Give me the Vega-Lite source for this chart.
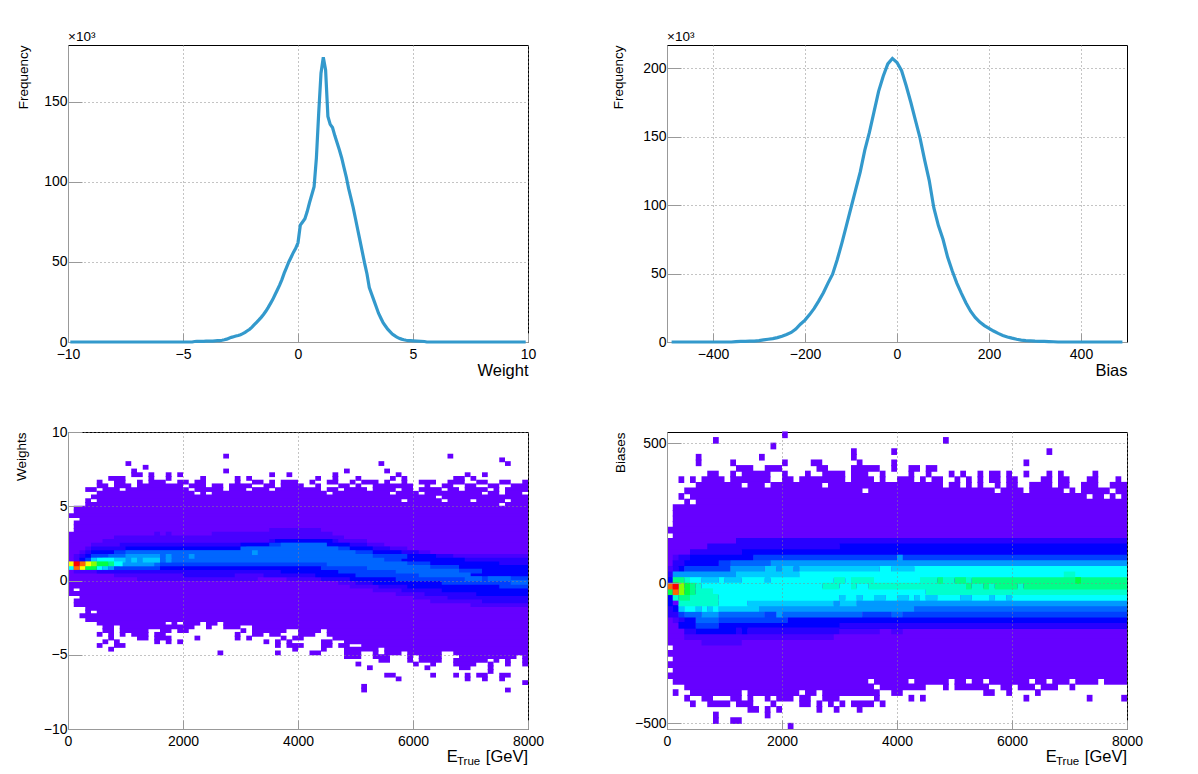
{
"$schema":"https://vega.github.io/schema/vega-lite/v6.json",
"background":"white",
"padding":{"left":13,"top":29,"right":0,"bottom":0},
"columns":2,
"spacing":{"row":90,"column":139},
"bounds":"flush",
"config":{
"font":"Liberation Sans",
"view":{"stroke":"black","strokeWidth":1},
"axis":{"domainColor":"#999999","tickColor":"#999999","gridColor":"#888888","gridDash":[1,3],"labelColor":"black","titleColor":"black","labelFontSize":14,"titleFontWeight":"normal","labelFont":"Liberation Sans","titleFont":"Liberation Sans","labelOverlap":false,"labelFlush":false},
"axisX":{"tickSize":-9,"labelPadding":14,"labelBaseline":"top"},
"axisY":{"tickSize":-14,"labelPadding":15}
},
"concat":[
{"width":460,"height":297,
"layer":[
{"data":{"values":[{"x":-9.9,"y":0},{"x":-4.6,"y":0},{"x":-4.5,"y":0.3},{"x":-4.4,"y":0.4},{"x":-4.3,"y":0.4},{"x":-4.2,"y":0.4},{"x":-4.1,"y":0.4},{"x":-4,"y":0.5},{"x":-3.9,"y":0.5},{"x":-3.8,"y":0.5},{"x":-3.7,"y":0.6},{"x":-3.6,"y":0.7},{"x":-3.5,"y":0.8},{"x":-3.4,"y":0.9},{"x":-3.3,"y":1.1},{"x":-3.2,"y":1.4},{"x":-3.1,"y":1.8},{"x":-3,"y":2.4},{"x":-2.9,"y":2.9},{"x":-2.8,"y":3.3},{"x":-2.7,"y":3.7},{"x":-2.6,"y":4.1},{"x":-2.5,"y":4.6},{"x":-2.4,"y":5.2},{"x":-2.3,"y":6},{"x":-2.2,"y":7},{"x":-2.1,"y":8},{"x":-2,"y":9.3},{"x":-1.9,"y":10.8},{"x":-1.8,"y":12.3},{"x":-1.7,"y":13.8},{"x":-1.6,"y":15.4},{"x":-1.5,"y":17.2},{"x":-1.4,"y":19.2},{"x":-1.3,"y":21.5},{"x":-1.2,"y":24},{"x":-1.1,"y":26.5},{"x":-1,"y":29.5},{"x":-0.9,"y":32.5},{"x":-0.8,"y":35.5},{"x":-0.7,"y":39},{"x":-0.6,"y":43},{"x":-0.5,"y":46.5},{"x":-0.4,"y":50},{"x":-0.3,"y":53},{"x":-0.2,"y":56},{"x":-0.1,"y":58.5},{"x":0,"y":62},{"x":0.1,"y":73},{"x":0.2,"y":75},{"x":0.3,"y":77},{"x":0.4,"y":81.5},{"x":0.5,"y":87},{"x":0.6,"y":92},{"x":0.7,"y":97},{"x":0.8,"y":115},{"x":0.9,"y":143},{"x":1,"y":168},{"x":1.1,"y":178},{"x":1.2,"y":170},{"x":1.3,"y":141},{"x":1.4,"y":136},{"x":1.5,"y":134},{"x":1.6,"y":129},{"x":1.7,"y":124.5},{"x":1.8,"y":120},{"x":1.9,"y":115},{"x":2,"y":109},{"x":2.1,"y":103},{"x":2.2,"y":96},{"x":2.3,"y":90},{"x":2.4,"y":84},{"x":2.5,"y":77},{"x":2.6,"y":70},{"x":2.7,"y":63},{"x":2.8,"y":56},{"x":2.9,"y":49},{"x":3,"y":42.5},{"x":3.1,"y":34},{"x":3.2,"y":30},{"x":3.3,"y":26},{"x":3.4,"y":22},{"x":3.5,"y":18},{"x":3.6,"y":15},{"x":3.7,"y":12},{"x":3.8,"y":10},{"x":3.9,"y":8},{"x":4,"y":6.5},{"x":4.1,"y":5},{"x":4.2,"y":4},{"x":4.3,"y":3},{"x":4.4,"y":2.3},{"x":4.5,"y":1.8},{"x":4.6,"y":1.4},{"x":4.7,"y":1.1},{"x":4.8,"y":0.9},{"x":4.9,"y":0.8},{"x":5,"y":0.7},{"x":5.5,"y":0.3},{"x":5.6,"y":0},{"x":9.9,"y":0}]},
"mark":{"type":"line","color":"#3399cc","strokeWidth":3.2},
"encoding":{
"x":{"field":"x","type":"quantitative","scale":{"domain":[-10,10],"nice":false},"axis":{"values":[-10,-5,0,5,10],"title":"Weight","titleFontSize":16.5,"titleAnchor":"end","titlePadding":1,"format":"d"}},
"y":{"field":"y","type":"quantitative","scale":{"domain":[0,185.6],"nice":false},"axis":{"values":[0,50,100,150],"title":"Frequency","titleFontSize":13.5,"titleAnchor":"end","titlePadding":13,"format":"d"}}}},
{"data":{"values":[{"x":-10,"y":185.6,"t":"×10³"}]},
"mark":{"type":"text","align":"left","baseline":"bottom","fontSize":13.5,"dy":-1,"clip":false},
"encoding":{"x":{"field":"x","type":"quantitative"},"y":{"field":"y","type":"quantitative"},"text":{"field":"t"}}}
]},
{"width":460,"height":297,
"layer":[
{"data":{"values":[{"x":-490,"y":0},{"x":-360,"y":0},{"x":-350,"y":0.3},{"x":-340,"y":0.4},{"x":-330,"y":0.5},{"x":-320,"y":0.6},{"x":-310,"y":0.7},{"x":-300,"y":1},{"x":-290,"y":1.5},{"x":-280,"y":2},{"x":-270,"y":2.5},{"x":-260,"y":3.2},{"x":-250,"y":4.2},{"x":-240,"y":5.5},{"x":-230,"y":7},{"x":-220,"y":9.5},{"x":-210,"y":13},{"x":-200,"y":16},{"x":-190,"y":20},{"x":-180,"y":24.5},{"x":-170,"y":30},{"x":-160,"y":36},{"x":-150,"y":43},{"x":-140,"y":49.5},{"x":-130,"y":60},{"x":-120,"y":72},{"x":-110,"y":85},{"x":-100,"y":98},{"x":-90,"y":111},{"x":-80,"y":124},{"x":-70,"y":140},{"x":-60,"y":153},{"x":-50,"y":168},{"x":-40,"y":183},{"x":-30,"y":194},{"x":-20,"y":203},{"x":-10,"y":207},{"x":0,"y":204},{"x":10,"y":198},{"x":20,"y":187},{"x":30,"y":175},{"x":40,"y":162},{"x":50,"y":149},{"x":60,"y":133},{"x":70,"y":118},{"x":80,"y":98},{"x":90,"y":85},{"x":100,"y":75},{"x":110,"y":62},{"x":120,"y":52},{"x":130,"y":43},{"x":140,"y":35.5},{"x":150,"y":28.5},{"x":160,"y":22.5},{"x":170,"y":18},{"x":180,"y":14.5},{"x":190,"y":12},{"x":200,"y":10},{"x":210,"y":8},{"x":220,"y":6.3},{"x":230,"y":4.8},{"x":240,"y":3.7},{"x":250,"y":2.8},{"x":260,"y":2},{"x":270,"y":1.4},{"x":280,"y":1},{"x":290,"y":0.8},{"x":300,"y":0.6},{"x":310,"y":0.5},{"x":320,"y":0.4},{"x":330,"y":0.3},{"x":340,"y":0.2},{"x":350,"y":0},{"x":490,"y":0}]},
"mark":{"type":"line","color":"#3399cc","strokeWidth":3.2},
"encoding":{
"x":{"field":"x","type":"quantitative","scale":{"domain":[-500,500],"nice":false},"axis":{"values":[-400,-200,0,200,400],"title":"Bias","titleFontSize":16.5,"titleAnchor":"end","titlePadding":1,"format":"d"}},
"y":{"field":"y","type":"quantitative","scale":{"domain":[0,216.8],"nice":false},"axis":{"values":[0,50,100,150,200],"title":"Frequency","titleFontSize":13.5,"titleAnchor":"end","titlePadding":17,"format":"d"}}}},
{"data":{"values":[{"x":-500,"y":216.8,"t":"×10³"}]},
"mark":{"type":"text","align":"left","baseline":"bottom","fontSize":13.5,"dy":-1,"clip":false},
"encoding":{"x":{"field":"x","type":"quantitative"},"y":{"field":"y","type":"quantitative"},"text":{"field":"t"}}}
]},
{"width":460,"height":297,
"layer":[
{"data":{"values":[
{"a":2700,"b":2800,"y":8.375,"z":1},{"a":6600,"b":6700,"y":8.375,"z":1},{"a":7500,"b":7600,"y":8.125,"z":1},{"a":7600,"b":7700,"y":7.875,"z":1},{"a":5400,"b":5500,"y":7.875,"z":1},{"a":1000,"b":1100,"y":7.875,"z":1},{"a":1300,"b":1400,"y":7.625,"z":1},
{"a":1100,"b":1200,"y":7.375,"z":1},{"a":2700,"b":2800,"y":7.375,"z":1},{"a":4800,"b":4900,"y":7.375,"z":1},{"a":5500,"b":5600,"y":7.375,"z":1},
{"a":1100,"b":1300,"y":7.125,"z":1},{"a":1400,"b":1500,"y":7.125,"z":1},{"a":1700,"b":1800,"y":7.125,"z":1},{"a":1900,"b":2000,"y":7.125,"z":1},{"a":3500,"b":3600,"y":7.125,"z":1},{"a":3800,"b":3900,"y":7.125,"z":1},{"a":4600,"b":4700,"y":7.125,"z":1},{"a":5700,"b":5800,"y":7.125,"z":1},{"a":6900,"b":7000,"y":7.125,"z":1},{"a":7200,"b":7300,"y":7.125,"z":1},
{"a":700,"b":1000,"y":6.875,"z":1},{"a":1400,"b":1500,"y":6.875,"z":1},{"a":1700,"b":1800,"y":6.875,"z":1},{"a":2300,"b":2400,"y":6.875,"z":1},{"a":2900,"b":3000,"y":6.875,"z":1},{"a":3100,"b":3200,"y":6.875,"z":1},{"a":4300,"b":4400,"y":6.875,"z":1},{"a":4600,"b":4700,"y":6.875,"z":1},{"a":5000,"b":5100,"y":6.875,"z":1},{"a":5600,"b":5700,"y":6.875,"z":1},{"a":5800,"b":5900,"y":6.875,"z":1},{"a":6700,"b":6900,"y":6.875,"z":1},{"a":7000,"b":7100,"y":6.875,"z":1},
{"a":500,"b":600,"y":6.625,"z":1},{"a":800,"b":1000,"y":6.625,"z":1},{"a":1200,"b":1300,"y":6.625,"z":1},{"a":1400,"b":1700,"y":6.625,"z":1},{"a":1900,"b":2100,"y":6.625,"z":1},{"a":2200,"b":2400,"y":6.625,"z":1},{"a":2900,"b":3000,"y":6.625,"z":1},{"a":3200,"b":3400,"y":6.625,"z":1},{"a":3500,"b":3600,"y":6.625,"z":1},{"a":3700,"b":4000,"y":6.625,"z":1},{"a":4200,"b":4300,"y":6.625,"z":1},{"a":4500,"b":4700,"y":6.625,"z":1},{"a":4900,"b":5000,"y":6.625,"z":1},{"a":5100,"b":5400,"y":6.625,"z":1},{"a":5500,"b":5600,"y":6.625,"z":1},{"a":5800,"b":5900,"y":6.625,"z":1},{"a":6100,"b":6400,"y":6.625,"z":1},{"a":6600,"b":6900,"y":6.625,"z":1},{"a":7100,"b":7300,"y":6.625,"z":1},{"a":7500,"b":7700,"y":6.625,"z":1},{"a":7900,"b":8000,"y":6.625,"z":1},
{"a":500,"b":700,"y":6.375,"z":1},{"a":800,"b":1100,"y":6.375,"z":1},{"a":1200,"b":2000,"y":6.375,"z":1},{"a":2100,"b":2400,"y":6.375,"z":1},{"a":2500,"b":2700,"y":6.375,"z":1},{"a":2800,"b":3200,"y":6.375,"z":1},{"a":3400,"b":3600,"y":6.375,"z":1},{"a":3700,"b":4100,"y":6.375,"z":1},{"a":4300,"b":4400,"y":6.375,"z":1},{"a":4700,"b":4900,"y":6.375,"z":1},{"a":5000,"b":5100,"y":6.375,"z":1},{"a":5300,"b":6000,"y":6.375,"z":1},{"a":6200,"b":6300,"y":6.375,"z":1},{"a":6500,"b":6700,"y":6.375,"z":1},{"a":6900,"b":7100,"y":6.375,"z":1},{"a":7300,"b":7500,"y":6.375,"z":1},{"a":7700,"b":8000,"y":6.375,"z":1},
{"a":300,"b":500,"y":6.125,"z":1},{"a":600,"b":900,"y":6.125,"z":1},{"a":1000,"b":2100,"y":6.125,"z":1},{"a":2200,"b":2700,"y":6.125,"z":1},{"a":2800,"b":3100,"y":6.125,"z":1},{"a":3200,"b":3500,"y":6.125,"z":1},{"a":3600,"b":4400,"y":6.125,"z":1},{"a":4500,"b":4700,"y":6.125,"z":1},{"a":4800,"b":5200,"y":6.125,"z":1},{"a":5300,"b":5700,"y":6.125,"z":1},{"a":5800,"b":6000,"y":6.125,"z":1},{"a":6100,"b":6500,"y":6.125,"z":1},{"a":6600,"b":6800,"y":6.125,"z":1},{"a":6900,"b":7300,"y":6.125,"z":1},{"a":7400,"b":7500,"y":6.125,"z":1},{"a":7600,"b":8000,"y":6.125,"z":1},
{"a":500,"b":2200,"y":5.875,"z":1},{"a":2300,"b":2400,"y":5.875,"z":1},{"a":2500,"b":4500,"y":5.875,"z":1},{"a":4600,"b":5600,"y":5.875,"z":1},{"a":5700,"b":6100,"y":5.875,"z":1},{"a":6200,"b":7200,"y":5.875,"z":1},{"a":7300,"b":7500,"y":5.875,"z":1},{"a":7600,"b":7900,"y":5.875,"z":1},
{"a":400,"b":6400,"y":5.625,"z":1},{"a":6500,"b":8000,"y":5.625,"z":1},
{"a":300,"b":400,"y":5.375,"z":1},{"a":500,"b":5800,"y":5.375,"z":1},{"a":5900,"b":6500,"y":5.375,"z":1},{"a":6600,"b":7000,"y":5.375,"z":1},{"a":7100,"b":7600,"y":5.375,"z":1},{"a":7700,"b":8000,"y":5.375,"z":1},
{"a":300,"b":7500,"y":5.125,"z":1},{"a":7600,"b":8000,"y":5.125,"z":1},
{"a":100,"b":8000,"y":4.875,"z":1},{"a":100,"b":8000,"y":4.625,"z":1},{"a":0,"b":8000,"y":4.375,"z":1},{"a":200,"b":8000,"y":4.125,"z":1},{"a":100,"b":8000,"y":3.875,"z":1},{"a":100,"b":8000,"y":3.625,"z":1},{"a":100,"b":8000,"y":3.375,"z":1},
{"a":0,"b":8000,"y":3.125,"z":1},{"a":0,"b":8000,"y":2.875,"z":1},{"a":0,"b":8000,"y":2.625,"z":1},{"a":0,"b":8000,"y":2.375,"z":1},{"a":0,"b":8000,"y":2.125,"z":1},{"a":0,"b":8000,"y":1.875,"z":1},{"a":0,"b":8000,"y":1.625,"z":1},{"a":0,"b":8000,"y":1.375,"z":1},{"a":0,"b":8000,"y":1.125,"z":1},{"a":0,"b":8000,"y":0.875,"z":1},{"a":0,"b":8000,"y":0.625,"z":1},{"a":0,"b":8000,"y":0.375,"z":1},{"a":0,"b":8000,"y":0.125,"z":1},{"a":0,"b":8000,"y":-0.125,"z":1},{"a":0,"b":8000,"y":-0.375,"z":1},
{"a":0,"b":100,"y":-0.625,"z":1},{"a":200,"b":8000,"y":-0.625,"z":1},{"a":0,"b":8000,"y":-0.875,"z":1},{"a":200,"b":8000,"y":-1.125,"z":1},{"a":100,"b":8000,"y":-1.375,"z":1},{"a":100,"b":8000,"y":-1.625,"z":1},{"a":300,"b":8000,"y":-1.875,"z":1},{"a":300,"b":400,"y":-2.125,"z":1},{"a":500,"b":8000,"y":-2.125,"z":1},{"a":200,"b":8000,"y":-2.375,"z":1},{"a":300,"b":8000,"y":-2.625,"z":1},
{"a":500,"b":1700,"y":-2.875,"z":1},{"a":1800,"b":1900,"y":-2.875,"z":1},{"a":2000,"b":2300,"y":-2.875,"z":1},{"a":2400,"b":2600,"y":-2.875,"z":1},{"a":2700,"b":8000,"y":-2.875,"z":1},
{"a":600,"b":800,"y":-3.125,"z":1},{"a":900,"b":2200,"y":-3.125,"z":1},{"a":2400,"b":2500,"y":-3.125,"z":1},{"a":2700,"b":3000,"y":-3.125,"z":1},{"a":3200,"b":8000,"y":-3.125,"z":1},
{"a":600,"b":800,"y":-3.375,"z":1},{"a":900,"b":1400,"y":-3.375,"z":1},{"a":1600,"b":1800,"y":-3.375,"z":1},{"a":1900,"b":2100,"y":-3.375,"z":1},{"a":3000,"b":3100,"y":-3.375,"z":1},{"a":3200,"b":3800,"y":-3.375,"z":1},{"a":4000,"b":4400,"y":-3.375,"z":1},{"a":4500,"b":8000,"y":-3.375,"z":1},
{"a":500,"b":600,"y":-3.625,"z":1},{"a":700,"b":800,"y":-3.625,"z":1},{"a":900,"b":1000,"y":-3.625,"z":1},{"a":1100,"b":1400,"y":-3.625,"z":1},{"a":1500,"b":1700,"y":-3.625,"z":1},{"a":2900,"b":3000,"y":-3.625,"z":1},{"a":3200,"b":3400,"y":-3.625,"z":1},{"a":3500,"b":3700,"y":-3.625,"z":1},{"a":4000,"b":4300,"y":-3.625,"z":1},{"a":4500,"b":8000,"y":-3.625,"z":1},
{"a":700,"b":800,"y":-3.875,"z":1},{"a":1200,"b":1400,"y":-3.875,"z":1},{"a":1500,"b":1800,"y":-3.875,"z":1},{"a":2200,"b":2300,"y":-3.875,"z":1},{"a":2900,"b":3000,"y":-3.875,"z":1},{"a":3100,"b":3200,"y":-3.875,"z":1},{"a":3700,"b":3800,"y":-3.875,"z":1},{"a":3900,"b":4100,"y":-3.875,"z":1},{"a":4600,"b":8000,"y":-3.875,"z":1},
{"a":600,"b":700,"y":-4.125,"z":1},{"a":800,"b":900,"y":-4.125,"z":1},{"a":1500,"b":1600,"y":-4.125,"z":1},{"a":1700,"b":1800,"y":-4.125,"z":1},{"a":1900,"b":2000,"y":-4.125,"z":1},{"a":3400,"b":3500,"y":-4.125,"z":1},{"a":3600,"b":3700,"y":-4.125,"z":1},{"a":3800,"b":3900,"y":-4.125,"z":1},{"a":4400,"b":4600,"y":-4.125,"z":1},{"a":4800,"b":8000,"y":-4.125,"z":1},
{"a":500,"b":600,"y":-4.375,"z":1},{"a":800,"b":1000,"y":-4.375,"z":1},{"a":3600,"b":3700,"y":-4.375,"z":1},{"a":3800,"b":4100,"y":-4.375,"z":1},{"a":4400,"b":4600,"y":-4.375,"z":1},{"a":4700,"b":4900,"y":-4.375,"z":1},{"a":5100,"b":8000,"y":-4.375,"z":1},
{"a":700,"b":800,"y":-4.625,"z":1},{"a":3900,"b":4000,"y":-4.625,"z":1},{"a":4400,"b":4500,"y":-4.625,"z":1},{"a":4800,"b":5400,"y":-4.625,"z":1},{"a":5500,"b":8000,"y":-4.625,"z":1},
{"a":2600,"b":2700,"y":-4.875,"z":1},{"a":3600,"b":3700,"y":-4.875,"z":1},{"a":4200,"b":4400,"y":-4.875,"z":1},{"a":4800,"b":5100,"y":-4.875,"z":1},{"a":5300,"b":5400,"y":-4.875,"z":1},{"a":5500,"b":5800,"y":-4.875,"z":1},{"a":5900,"b":6500,"y":-4.875,"z":1},{"a":6700,"b":8000,"y":-4.875,"z":1},
{"a":4800,"b":5100,"y":-5.125,"z":1},{"a":5300,"b":5600,"y":-5.125,"z":1},{"a":5900,"b":6000,"y":-5.125,"z":1},{"a":6100,"b":6500,"y":-5.125,"z":1},{"a":6800,"b":7800,"y":-5.125,"z":1},{"a":7900,"b":8000,"y":-5.125,"z":1},
{"a":5400,"b":5600,"y":-5.375,"z":1},{"a":5900,"b":6000,"y":-5.375,"z":1},{"a":6100,"b":6500,"y":-5.375,"z":1},{"a":6700,"b":7300,"y":-5.375,"z":1},{"a":7400,"b":7500,"y":-5.375,"z":1},{"a":7600,"b":7700,"y":-5.375,"z":1},{"a":7900,"b":8000,"y":-5.375,"z":1},
{"a":5000,"b":5100,"y":-5.625,"z":1},{"a":6000,"b":6100,"y":-5.625,"z":1},{"a":6300,"b":6400,"y":-5.625,"z":1},{"a":6700,"b":7100,"y":-5.625,"z":1},{"a":7300,"b":7400,"y":-5.625,"z":1},{"a":7600,"b":7700,"y":-5.625,"z":1},{"a":7900,"b":8000,"y":-5.625,"z":1},
{"a":5200,"b":5300,"y":-5.875,"z":1},{"a":6200,"b":6300,"y":-5.875,"z":1},{"a":6800,"b":7000,"y":-5.875,"z":1},{"a":7300,"b":7400,"y":-5.875,"z":1},{"a":7300,"b":7400,"y":-6.125,"z":1},
{"a":5500,"b":5700,"y":-6.375,"z":1},{"a":6300,"b":6400,"y":-6.375,"z":1},{"a":6700,"b":6800,"y":-6.375,"z":1},{"a":6900,"b":7000,"y":-6.375,"z":1},{"a":7100,"b":7300,"y":-6.375,"z":1},{"a":7500,"b":7700,"y":-6.375,"z":1},
{"a":5700,"b":5800,"y":-6.625,"z":1},{"a":6900,"b":7000,"y":-6.625,"z":1},{"a":7200,"b":7300,"y":-6.625,"z":1},{"a":7500,"b":7600,"y":-6.625,"z":1},{"a":7900,"b":8000,"y":-6.875,"z":1},{"a":5100,"b":5200,"y":-7.125,"z":1},{"a":5100,"b":5200,"y":-7.375,"z":1},{"a":7600,"b":7700,"y":-7.375,"z":1},
{"a":3500,"b":4400,"y":3.375,"z":2},{"a":1500,"b":1600,"y":3.125,"z":2},{"a":1700,"b":1800,"y":3.125,"z":2},{"a":2500,"b":4600,"y":3.125,"z":2},{"a":800,"b":4800,"y":2.875,"z":2},{"a":600,"b":5200,"y":2.625,"z":2},{"a":400,"b":5500,"y":2.375,"z":2},{"a":300,"b":5900,"y":2.125,"z":2},{"a":200,"b":6300,"y":1.875,"z":2},{"a":100,"b":8000,"y":1.625,"z":2},{"a":100,"b":8000,"y":1.375,"z":2},{"a":100,"b":8000,"y":0.625,"z":2},{"a":800,"b":8000,"y":0.375,"z":2},{"a":1200,"b":3300,"y":0.125,"z":2},{"a":3800,"b":8000,"y":0.125,"z":2},{"a":4700,"b":8000,"y":-0.125,"z":2},{"a":4900,"b":8000,"y":-0.375,"z":2},{"a":5300,"b":8000,"y":-0.625,"z":2},{"a":5700,"b":8000,"y":-0.875,"z":2},{"a":6000,"b":8000,"y":-1.125,"z":2},{"a":6300,"b":8000,"y":-1.375,"z":2},{"a":7000,"b":8000,"y":-1.625,"z":2},
{"a":3500,"b":4700,"y":2.625,"z":3},{"a":900,"b":5200,"y":2.375,"z":3},{"a":400,"b":5600,"y":2.125,"z":3},{"a":300,"b":6100,"y":1.875,"z":3},{"a":200,"b":6700,"y":1.625,"z":3},{"a":200,"b":8000,"y":1.375,"z":3},{"a":200,"b":8000,"y":1.125,"z":3},{"a":200,"b":8000,"y":0.875,"z":3},{"a":500,"b":8000,"y":0.625,"z":3},{"a":2000,"b":2900,"y":0.375,"z":3},{"a":3400,"b":8000,"y":0.375,"z":3},{"a":4400,"b":8000,"y":0.125,"z":3},{"a":5000,"b":8000,"y":-0.125,"z":3},{"a":5400,"b":8000,"y":-0.375,"z":3},{"a":5800,"b":8000,"y":-0.625,"z":3},{"a":6200,"b":8000,"y":-0.875,"z":3},{"a":6600,"b":8000,"y":-1.125,"z":3},{"a":7200,"b":8000,"y":-1.375,"z":3},
{"a":3600,"b":4600,"y":2.625,"z":4},{"a":3000,"b":4900,"y":2.375,"z":4},{"a":1000,"b":5300,"y":2.125,"z":4},{"a":400,"b":5800,"y":1.875,"z":4},{"a":300,"b":6400,"y":1.625,"z":4},{"a":200,"b":6900,"y":1.375,"z":4},{"a":200,"b":7500,"y":1.125,"z":4},{"a":200,"b":8000,"y":0.875,"z":4},{"a":3700,"b":8000,"y":0.625,"z":4},{"a":4300,"b":8000,"y":0.375,"z":4},{"a":4900,"b":8000,"y":0.125,"z":4},{"a":5300,"b":8000,"y":-0.125,"z":4},{"a":5900,"b":8000,"y":-0.375,"z":4},{"a":6500,"b":8000,"y":-0.625,"z":4},{"a":7100,"b":8000,"y":-0.875,"z":4},
{"a":3500,"b":4500,"y":2.375,"z":5},{"a":3100,"b":4900,"y":2.125,"z":5},{"a":800,"b":5300,"y":1.875,"z":5},{"a":400,"b":5900,"y":1.625,"z":5},{"a":300,"b":5800,"y":1.375,"z":5},{"a":300,"b":6300,"y":1.125,"z":5},{"a":300,"b":1600,"y":0.875,"z":5},{"a":4400,"b":6800,"y":0.875,"z":5},{"a":4700,"b":7200,"y":0.625,"z":5},{"a":5000,"b":7000,"y":0.375,"z":5},{"a":5700,"b":8000,"y":0.125,"z":5},{"a":6500,"b":8000,"y":-0.125,"z":5},{"a":7500,"b":8000,"y":-0.375,"z":5},
{"a":3700,"b":4500,"y":2.375,"z":6},{"a":3000,"b":4700,"y":2.125,"z":6},{"a":1000,"b":5000,"y":1.875,"z":6},{"a":700,"b":5300,"y":1.625,"z":6},{"a":500,"b":5500,"y":1.375,"z":6},{"a":400,"b":1600,"y":1.125,"z":6},{"a":4500,"b":5900,"y":1.125,"z":6},{"a":5200,"b":6300,"y":0.875,"z":6},{"a":5700,"b":6800,"y":0.625,"z":6},{"a":6100,"b":7000,"y":0.375,"z":6},{"a":6900,"b":7200,"y":0.125,"z":6},{"a":7300,"b":7700,"y":0.125,"z":6},{"a":7700,"b":8000,"y":-0.125,"z":6},
{"a":3200,"b":3300,"y":1.875,"z":7},{"a":2100,"b":2200,"y":1.625,"z":7},{"a":1000,"b":1600,"y":1.625,"z":7},{"a":1700,"b":1800,"y":1.625,"z":7},{"a":600,"b":1600,"y":1.375,"z":7},{"a":1700,"b":1800,"y":1.375,"z":7},{"a":400,"b":700,"y":1.125,"z":7},{"a":900,"b":1500,"y":1.125,"z":7},
{"a":1100,"b":1200,"y":1.375,"z":8},{"a":1300,"b":1600,"y":1.375,"z":8},{"a":800,"b":1000,"y":1.375,"z":8},{"a":400,"b":500,"y":1.375,"z":8},
{"a":500,"b":800,"y":1.375,"z":9},{"a":800,"b":950,"y":1.125,"z":9},{"a":0,"b":100,"y":0.875,"z":9},{"a":500,"b":600,"y":0.875,"z":9},{"a":600,"b":700,"y":0.875,"z":8},{"a":700,"b":800,"y":0.875,"z":7},
{"a":700,"b":800,"y":1.125,"z":11},{"a":500,"b":700,"y":1.125,"z":12},{"a":300,"b":500,"y":0.875,"z":12},{"a":400,"b":500,"y":1.125,"z":13},
{"a":0,"b":100,"y":1.125,"z":14},{"a":300,"b":400,"y":1.125,"z":14},{"a":200,"b":300,"y":0.875,"z":14},{"a":200,"b":300,"y":1.125,"z":15},{"a":100,"b":200,"y":0.875,"z":15},{"a":100,"b":200,"y":1.125,"z":16}
]},
"mark":{"type":"rect","height":4.8},
"encoding":{
"x":{"field":"a","type":"quantitative","scale":{"domain":[0,8000],"nice":false},"axis":{"values":[0,2000,4000,6000,8000],"title":null,"format":"d","zindex":1}},
"x2":{"field":"b"},
"y":{"field":"y","type":"quantitative","scale":{"domain":[-10,10],"nice":false},"axis":{"values":[-10,-5,0,5,10],"title":"Weights","titleFontSize":13.5,"titleAnchor":"end","titlePadding":15,"format":"d","zindex":1}},
"color":{"field":"z","type":"ordinal","legend":null,"scale":{"domain":[1,2,3,4,5,6,7,8,9,10,11,12,13,14,15,16],"range":["#6600ff","#4800ff","#2800ff","#0000ff","#0040ff","#0066ff","#0099ff","#00ccff","#00ffff","#00ffcc","#00ff88","#00ff44","#88ff00","#ffff00","#ff6600","#ff0000"]}}}},
{"data":{"values":[{"x":6586,"y":-11.9,"t":"E"}]},
"mark":{"type":"text","fontSize":16.5,"align":"left","clip":false},
"encoding":{"x":{"field":"x","type":"quantitative"},"y":{"field":"y","type":"quantitative"},"text":{"field":"t"}}},
{"data":{"values":[{"x":8000,"y":-11.9,"t":"[GeV]"}]},
"mark":{"type":"text","fontSize":16.5,"align":"right","clip":false},
"encoding":{"x":{"field":"x","type":"quantitative"},"y":{"field":"y","type":"quantitative"},"text":{"field":"t"}}},
{"data":{"values":[{"x":6765,"y":-12.2,"t":"True"}]},
"mark":{"type":"text","fontSize":11.5,"align":"left","clip":false},
"encoding":{"x":{"field":"x","type":"quantitative"},"y":{"field":"y","type":"quantitative"},"text":{"field":"t"}}}
]},
{"width":460,"height":297,
"layer":[
{"data":{"values":[
{"a":2000,"b":2100,"y":530,"z":1},{"a":800,"b":900,"y":510,"z":1},{"a":4800,"b":4900,"y":510,"z":1},{"a":1800,"b":1900,"y":490,"z":1},{"a":3200,"b":3300,"y":470,"z":1},{"a":3900,"b":4000,"y":470,"z":1},{"a":6600,"b":6700,"y":470,"z":1},{"a":500,"b":600,"y":450,"z":1},{"a":1600,"b":1700,"y":450,"z":1},{"a":3200,"b":3300,"y":450,"z":1},
{"a":500,"b":600,"y":430,"z":1},{"a":1100,"b":1200,"y":430,"z":1},{"a":2000,"b":2100,"y":430,"z":1},{"a":2500,"b":2700,"y":430,"z":1},{"a":3300,"b":3400,"y":430,"z":1},{"a":3900,"b":4000,"y":430,"z":1},{"a":6200,"b":6300,"y":430,"z":1},
{"a":1200,"b":1500,"y":410,"z":1},{"a":1700,"b":2000,"y":410,"z":1},{"a":2600,"b":2800,"y":410,"z":1},{"a":3200,"b":3700,"y":410,"z":1},{"a":3900,"b":4000,"y":410,"z":1},{"a":4200,"b":4400,"y":410,"z":1},{"a":4500,"b":4700,"y":410,"z":1},
{"a":700,"b":900,"y":390,"z":1},{"a":1100,"b":1200,"y":390,"z":1},{"a":1300,"b":1800,"y":390,"z":1},{"a":2000,"b":2100,"y":390,"z":1},{"a":2400,"b":2500,"y":390,"z":1},{"a":2700,"b":3100,"y":390,"z":1},{"a":3200,"b":3500,"y":390,"z":1},{"a":3700,"b":3800,"y":390,"z":1},{"a":4200,"b":4300,"y":390,"z":1},{"a":4500,"b":4600,"y":390,"z":1},{"a":4900,"b":5000,"y":390,"z":1},{"a":5100,"b":5200,"y":390,"z":1},{"a":5400,"b":5500,"y":390,"z":1},{"a":5600,"b":5800,"y":390,"z":1},{"a":5900,"b":6000,"y":390,"z":1},{"a":6200,"b":6300,"y":390,"z":1},{"a":6600,"b":6700,"y":390,"z":1},{"a":6800,"b":6900,"y":390,"z":1},{"a":7400,"b":7500,"y":390,"z":1},
{"a":200,"b":300,"y":370,"z":1},{"a":400,"b":500,"y":370,"z":1},{"a":600,"b":1000,"y":370,"z":1},{"a":1100,"b":1800,"y":370,"z":1},{"a":2000,"b":2200,"y":370,"z":1},{"a":2300,"b":3100,"y":370,"z":1},{"a":3200,"b":3600,"y":370,"z":1},{"a":3700,"b":3800,"y":370,"z":1},{"a":4000,"b":4300,"y":370,"z":1},{"a":4400,"b":4500,"y":370,"z":1},{"a":4600,"b":4800,"y":370,"z":1},{"a":5000,"b":5100,"y":370,"z":1},{"a":5200,"b":5300,"y":370,"z":1},{"a":5400,"b":5500,"y":370,"z":1},{"a":5600,"b":5800,"y":370,"z":1},{"a":5900,"b":6100,"y":370,"z":1},{"a":6500,"b":6700,"y":370,"z":1},{"a":6800,"b":7000,"y":370,"z":1},{"a":7300,"b":7500,"y":370,"z":1},{"a":7800,"b":7900,"y":370,"z":1},
{"a":500,"b":1300,"y":350,"z":1},{"a":1400,"b":1700,"y":350,"z":1},{"a":1800,"b":2700,"y":350,"z":1},{"a":2800,"b":4800,"y":350,"z":1},{"a":4900,"b":5100,"y":350,"z":1},{"a":5200,"b":5300,"y":350,"z":1},{"a":5400,"b":5500,"y":350,"z":1},{"a":5700,"b":5800,"y":350,"z":1},{"a":5900,"b":6100,"y":350,"z":1},{"a":6300,"b":6700,"y":350,"z":1},{"a":6800,"b":7000,"y":350,"z":1},{"a":7200,"b":7500,"y":350,"z":1},{"a":7700,"b":8000,"y":350,"z":1},
{"a":300,"b":3400,"y":330,"z":1},{"a":3500,"b":5700,"y":330,"z":1},{"a":5800,"b":6200,"y":330,"z":1},{"a":6300,"b":6900,"y":330,"z":1},{"a":7000,"b":7100,"y":330,"z":1},{"a":7200,"b":7700,"y":330,"z":1},{"a":7800,"b":8000,"y":330,"z":1},
{"a":200,"b":300,"y":310,"z":1},{"a":400,"b":7300,"y":310,"z":1},{"a":7400,"b":7600,"y":310,"z":1},{"a":7700,"b":7800,"y":310,"z":1},{"a":7900,"b":8000,"y":310,"z":1},
{"a":300,"b":400,"y":290,"z":1},{"a":500,"b":8000,"y":290,"z":1},
{"a":100,"b":8000,"y":270,"z":1},{"a":100,"b":8000,"y":250,"z":1},{"a":100,"b":8000,"y":230,"z":1},{"a":100,"b":8000,"y":210,"z":1},{"a":0,"b":8000,"y":190,"z":1},{"a":100,"b":8000,"y":170,"z":1},{"a":0,"b":8000,"y":150,"z":1},{"a":0,"b":8000,"y":130,"z":1},{"a":0,"b":8000,"y":110,"z":1},{"a":0,"b":8000,"y":90,"z":1},{"a":0,"b":8000,"y":70,"z":1},{"a":0,"b":8000,"y":50,"z":1},{"a":0,"b":8000,"y":30,"z":1},{"a":0,"b":8000,"y":10,"z":1},{"a":0,"b":8000,"y":-10,"z":1},{"a":0,"b":8000,"y":-30,"z":1},{"a":0,"b":8000,"y":-50,"z":1},{"a":0,"b":8000,"y":-70,"z":1},{"a":0,"b":8000,"y":-90,"z":1},{"a":0,"b":8000,"y":-110,"z":1},{"a":0,"b":8000,"y":-130,"z":1},{"a":0,"b":8000,"y":-150,"z":1},{"a":0,"b":8000,"y":-170,"z":1},{"a":0,"b":8000,"y":-190,"z":1},{"a":0,"b":8000,"y":-210,"z":1},
{"a":100,"b":8000,"y":-230,"z":1},{"a":0,"b":8000,"y":-250,"z":1},{"a":100,"b":8000,"y":-270,"z":1},{"a":0,"b":8000,"y":-290,"z":1},{"a":100,"b":8000,"y":-310,"z":1},{"a":0,"b":8000,"y":-330,"z":1},
{"a":100,"b":3500,"y":-350,"z":1},{"a":3600,"b":4200,"y":-350,"z":1},{"a":4300,"b":4900,"y":-350,"z":1},{"a":5000,"b":5200,"y":-350,"z":1},{"a":5300,"b":5500,"y":-350,"z":1},{"a":5600,"b":6300,"y":-350,"z":1},{"a":6400,"b":6600,"y":-350,"z":1},{"a":6700,"b":7000,"y":-350,"z":1},{"a":7100,"b":7500,"y":-350,"z":1},{"a":7600,"b":8000,"y":-350,"z":1},
{"a":300,"b":3600,"y":-370,"z":1},{"a":3700,"b":4500,"y":-370,"z":1},{"a":4800,"b":4900,"y":-370,"z":1},{"a":5000,"b":5600,"y":-370,"z":1},{"a":5800,"b":6000,"y":-370,"z":1},{"a":6100,"b":6400,"y":-370,"z":1},{"a":6500,"b":6800,"y":-370,"z":1},{"a":7000,"b":7100,"y":-370,"z":1},
{"a":100,"b":200,"y":-390,"z":1},{"a":400,"b":1300,"y":-390,"z":1},{"a":1400,"b":2300,"y":-390,"z":1},{"a":2400,"b":2600,"y":-390,"z":1},{"a":2700,"b":3700,"y":-390,"z":1},{"a":3900,"b":4100,"y":-390,"z":1},{"a":5500,"b":5700,"y":-390,"z":1},{"a":5900,"b":6000,"y":-390,"z":1},{"a":6400,"b":6500,"y":-390,"z":1},
{"a":300,"b":400,"y":-410,"z":1},{"a":600,"b":800,"y":-410,"z":1},{"a":1100,"b":1300,"y":-410,"z":1},{"a":1400,"b":1500,"y":-410,"z":1},{"a":1700,"b":1800,"y":-410,"z":1},{"a":1900,"b":2200,"y":-410,"z":1},{"a":2300,"b":2500,"y":-410,"z":1},{"a":2700,"b":3000,"y":-410,"z":1},{"a":3600,"b":3700,"y":-410,"z":1},{"a":4200,"b":4300,"y":-410,"z":1},{"a":4400,"b":4500,"y":-410,"z":1},{"a":6200,"b":6300,"y":-410,"z":1},{"a":7300,"b":7400,"y":-410,"z":1},{"a":7900,"b":8000,"y":-410,"z":1},
{"a":400,"b":500,"y":-430,"z":1},{"a":700,"b":1100,"y":-430,"z":1},{"a":1200,"b":1500,"y":-430,"z":1},{"a":1800,"b":1900,"y":-430,"z":1},{"a":2300,"b":2500,"y":-430,"z":1},{"a":2600,"b":2700,"y":-430,"z":1},{"a":2800,"b":2900,"y":-430,"z":1},{"a":3000,"b":3100,"y":-430,"z":1},{"a":3200,"b":3600,"y":-430,"z":1},{"a":3700,"b":3800,"y":-430,"z":1},
{"a":1400,"b":1600,"y":-450,"z":1},{"a":1700,"b":1800,"y":-450,"z":1},{"a":1900,"b":2000,"y":-450,"z":1},{"a":2600,"b":2700,"y":-450,"z":1},{"a":2900,"b":3000,"y":-450,"z":1},{"a":3300,"b":3400,"y":-450,"z":1},
{"a":800,"b":900,"y":-470,"z":1},{"a":1700,"b":1800,"y":-470,"z":1},{"a":800,"b":900,"y":-490,"z":1},{"a":1100,"b":1300,"y":-490,"z":1},{"a":2100,"b":2200,"y":-510,"z":1},
{"a":100,"b":8000,"y":90,"z":2},{"a":100,"b":8000,"y":70,"z":2},{"a":0,"b":100,"y":50,"z":2},{"a":300,"b":2900,"y":-190,"z":2},{"a":600,"b":1300,"y":-210,"z":2},{"a":3000,"b":3700,"y":-170,"z":2},{"a":3900,"b":4100,"y":-170,"z":2},{"a":100,"b":200,"y":-130,"z":2},
{"a":1200,"b":8000,"y":150,"z":3},{"a":700,"b":3000,"y":130,"z":3},{"a":400,"b":1300,"y":110,"z":3},{"a":200,"b":400,"y":90,"z":3},{"a":100,"b":300,"y":70,"z":3},{"a":100,"b":200,"y":50,"z":3},{"a":0,"b":100,"y":30,"z":3},{"a":0,"b":100,"y":-90,"z":3},{"a":0,"b":200,"y":-110,"z":3},{"a":200,"b":300,"y":-130,"z":3},{"a":900,"b":8000,"y":-150,"z":4},{"a":3000,"b":8000,"y":-150,"z":3},{"a":300,"b":500,"y":-170,"z":3},{"a":1200,"b":1300,"y":-170,"z":3},{"a":1400,"b":3000,"y":-170,"z":3},
{"a":3000,"b":8000,"y":130,"z":4},{"a":1300,"b":8000,"y":110,"z":4},{"a":400,"b":1500,"y":90,"z":4},{"a":300,"b":900,"y":70,"z":4},{"a":200,"b":300,"y":50,"z":4},{"a":0,"b":100,"y":10,"z":4},{"a":0,"b":100,"y":-50,"z":4},{"a":0,"b":100,"y":-70,"z":4},{"a":100,"b":200,"y":-90,"z":4},{"a":300,"b":500,"y":-130,"z":4},{"a":2100,"b":8000,"y":-130,"z":4},{"a":200,"b":500,"y":-150,"z":4},{"a":500,"b":1200,"y":-170,"z":4},{"a":1300,"b":1400,"y":-170,"z":4},
{"a":1500,"b":8000,"y":90,"z":5},{"a":900,"b":1100,"y":70,"z":5},{"a":300,"b":1100,"y":50,"z":5},{"a":200,"b":300,"y":-110,"z":5},{"a":3400,"b":3900,"y":-110,"z":5},{"a":4100,"b":8000,"y":-110,"z":5},{"a":1700,"b":1900,"y":-110,"z":5},{"a":900,"b":2100,"y":-130,"z":5},{"a":500,"b":900,"y":-150,"z":5},
{"a":1100,"b":1800,"y":70,"z":6},{"a":4300,"b":8000,"y":-90,"z":6},{"a":300,"b":600,"y":-110,"z":6},{"a":900,"b":1700,"y":-110,"z":6},{"a":2000,"b":3400,"y":-110,"z":6},{"a":3900,"b":4100,"y":-110,"z":6},{"a":500,"b":900,"y":-130,"z":6},
{"a":4000,"b":4100,"y":90,"z":7},{"a":1800,"b":8000,"y":70,"z":7},{"a":1100,"b":1700,"y":50,"z":7},{"a":1900,"b":2000,"y":50,"z":7},{"a":2200,"b":2300,"y":50,"z":7},{"a":100,"b":1200,"y":30,"z":7},{"a":1600,"b":4300,"y":-90,"z":7},{"a":3300,"b":8000,"y":-70,"z":7},{"a":2900,"b":3000,"y":-70,"z":7},{"a":600,"b":900,"y":-110,"z":7},{"a":1900,"b":2000,"y":-110,"z":7},
{"a":1700,"b":1900,"y":50,"z":8},{"a":2000,"b":2200,"y":50,"z":8},{"a":2300,"b":3700,"y":50,"z":8},{"a":3900,"b":4300,"y":50,"z":8},{"a":1200,"b":2300,"y":30,"z":8},{"a":600,"b":900,"y":10,"z":8},{"a":1000,"b":1300,"y":10,"z":8},{"a":1700,"b":1800,"y":10,"z":8},{"a":3000,"b":3100,"y":-50,"z":8},{"a":3300,"b":3400,"y":-50,"z":8},{"a":3600,"b":3800,"y":-50,"z":8},{"a":4000,"b":4200,"y":-50,"z":8},{"a":4300,"b":4400,"y":-50,"z":8},{"a":4500,"b":4700,"y":-50,"z":8},{"a":5100,"b":5300,"y":-50,"z":8},{"a":5600,"b":5700,"y":-50,"z":8},{"a":5900,"b":6000,"y":-50,"z":8},{"a":1400,"b":2900,"y":-70,"z":8},{"a":3000,"b":3300,"y":-70,"z":8},{"a":200,"b":300,"y":-90,"z":8},{"a":500,"b":600,"y":-90,"z":8},{"a":700,"b":800,"y":-90,"z":8},{"a":900,"b":1600,"y":-90,"z":8},
{"a":3700,"b":3900,"y":50,"z":9},{"a":4300,"b":8000,"y":50,"z":9},{"a":2300,"b":8000,"y":30,"z":9},{"a":400,"b":600,"y":10,"z":9},{"a":900,"b":1000,"y":10,"z":9},{"a":1300,"b":1700,"y":10,"z":9},{"a":1800,"b":2900,"y":10,"z":9},{"a":3100,"b":3200,"y":10,"z":9},{"a":3600,"b":4400,"y":10,"z":9},{"a":600,"b":2700,"y":-10,"z":9},{"a":3000,"b":3200,"y":-10,"z":9},{"a":3300,"b":3500,"y":-10,"z":9},{"a":800,"b":4500,"y":-30,"z":9},{"a":900,"b":3000,"y":-50,"z":9},{"a":3100,"b":3300,"y":-50,"z":9},{"a":3400,"b":3600,"y":-50,"z":9},{"a":3800,"b":4000,"y":-50,"z":9},{"a":4200,"b":4300,"y":-50,"z":9},{"a":4400,"b":4500,"y":-50,"z":9},{"a":4700,"b":5100,"y":-50,"z":9},{"a":5300,"b":5600,"y":-50,"z":9},{"a":5700,"b":5900,"y":-50,"z":9},{"a":6000,"b":8000,"y":-50,"z":9},{"a":900,"b":1400,"y":-70,"z":9},{"a":300,"b":500,"y":-90,"z":9},{"a":600,"b":700,"y":-90,"z":9},{"a":800,"b":900,"y":-90,"z":9},
{"a":6900,"b":7100,"y":30,"z":10},{"a":300,"b":400,"y":10,"z":10},{"a":2900,"b":3100,"y":10,"z":10},{"a":3200,"b":3600,"y":10,"z":10},{"a":4400,"b":4700,"y":10,"z":10},{"a":4800,"b":5000,"y":10,"z":10},{"a":5200,"b":5300,"y":10,"z":10},{"a":500,"b":600,"y":-10,"z":10},{"a":2700,"b":3000,"y":-10,"z":10},{"a":3200,"b":3300,"y":-10,"z":10},{"a":3500,"b":5200,"y":-10,"z":10},{"a":5300,"b":5500,"y":-10,"z":10},{"a":5600,"b":5700,"y":-10,"z":10},{"a":6100,"b":6200,"y":-10,"z":10},{"a":500,"b":800,"y":-30,"z":10},{"a":4500,"b":8000,"y":-30,"z":10},{"a":100,"b":200,"y":-50,"z":10},{"a":400,"b":900,"y":-50,"z":10},{"a":200,"b":900,"y":-70,"z":10},
{"a":100,"b":300,"y":10,"z":11},{"a":4700,"b":4800,"y":10,"z":11},{"a":5000,"b":5200,"y":10,"z":11},{"a":5300,"b":8000,"y":10,"z":11},{"a":400,"b":500,"y":-10,"z":11},{"a":5200,"b":5300,"y":-10,"z":11},{"a":5500,"b":5600,"y":-10,"z":11},{"a":5700,"b":6100,"y":-10,"z":11},{"a":6200,"b":8000,"y":-10,"z":11},{"a":400,"b":500,"y":-30,"z":11},{"a":200,"b":400,"y":-50,"z":11},
{"a":7100,"b":7200,"y":10,"z":12},{"a":300,"b":400,"y":-10,"z":12},{"a":0,"b":100,"y":-30,"z":12},{"a":300,"b":400,"y":-30,"z":12},
{"a":200,"b":300,"y":-10,"z":13},{"a":200,"b":300,"y":-30,"z":13},
{"a":0,"b":100,"y":-10,"z":15},{"a":100,"b":200,"y":-30,"z":15},{"a":100,"b":200,"y":-10,"z":16}
]},
"mark":{"type":"rect","height":6.7},
"encoding":{
"x":{"field":"a","type":"quantitative","scale":{"domain":[0,8000],"nice":false},"axis":{"values":[0,2000,4000,6000,8000],"title":null,"format":"d","zindex":1}},
"x2":{"field":"b"},
"y":{"field":"y","type":"quantitative","scale":{"domain":[-520,540],"nice":false},"axis":{"values":[-500,0,500],"title":"Biases","titleFontSize":13.5,"titleAnchor":"end","titlePadding":7,"format":"d","zindex":1}},
"color":{"field":"z","type":"ordinal","legend":null,"scale":{"domain":[1,2,3,4,5,6,7,8,9,10,11,12,13,14,15,16],"range":["#6600ff","#4800ff","#2800ff","#0000ff","#0040ff","#0066ff","#0099ff","#00ccff","#00ffff","#00ffcc","#00ff88","#00ff44","#88ff00","#ffff00","#ff6600","#ff0000"]}}}},
{"data":{"values":[{"x":6586,"y":-621,"t":"E"}]},
"mark":{"type":"text","fontSize":16.5,"align":"left","clip":false},
"encoding":{"x":{"field":"x","type":"quantitative"},"y":{"field":"y","type":"quantitative"},"text":{"field":"t"}}},
{"data":{"values":[{"x":8000,"y":-621,"t":"[GeV]"}]},
"mark":{"type":"text","fontSize":16.5,"align":"right","clip":false},
"encoding":{"x":{"field":"x","type":"quantitative"},"y":{"field":"y","type":"quantitative"},"text":{"field":"t"}}},
{"data":{"values":[{"x":6765,"y":-636,"t":"True"}]},
"mark":{"type":"text","fontSize":11.5,"align":"left","clip":false},
"encoding":{"x":{"field":"x","type":"quantitative"},"y":{"field":"y","type":"quantitative"},"text":{"field":"t"}}}
]}
]
}
